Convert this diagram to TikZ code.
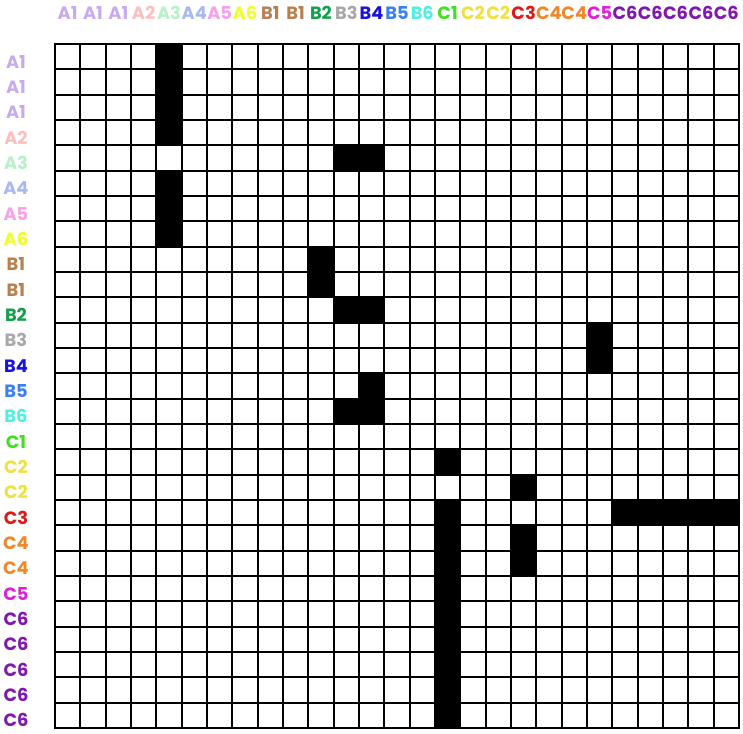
\documentclass[tikz,border=0pt]{standalone}
\usepackage{fontspec}
\setmainfont{Poppins}
\usepackage{xcolor}
\usepackage{tikz}
\definecolor{colA1}{RGB}{200,170,240}
\definecolor{colA2}{RGB}{255,190,190}
\definecolor{colA3}{RGB}{184,240,200}
\definecolor{colA4}{RGB}{168,184,240}
\definecolor{colA5}{RGB}{248,160,232}
\definecolor{colA6}{RGB}{238,255,48}
\definecolor{colB1}{RGB}{184,128,79}
\definecolor{colB2}{RGB}{18,160,74}
\definecolor{colB3}{RGB}{168,168,168}
\definecolor{colB4}{RGB}{26,16,224}
\definecolor{colB5}{RGB}{58,128,240}
\definecolor{colB6}{RGB}{80,240,224}
\definecolor{colC1}{RGB}{64,224,32}
\definecolor{colC2}{RGB}{240,224,64}
\definecolor{colC3}{RGB}{224,24,24}
\definecolor{colC4}{RGB}{240,136,40}
\definecolor{colC5}{RGB}{224,32,216}
\definecolor{colC6}{RGB}{128,24,176}

\begin{document}
\begin{tikzpicture}[
x=0.5cm,y=-0.5cm,
lbl/.style={font=\fontsize{10}{12}\selectfont\bfseries,inner sep=0pt,anchor=center},
celda/.style={fill=black},
rejilla/.style={line width=1.1pt,line cap=rect}
]
\useasboundingbox (-2.17,-1.737) rectangle (27.16,27.2);

% celdas negras (columna,fila)
\foreach \c/\r in {4/0,4/1,4/2,4/3,4/5,4/6,4/7,
  11/4,12/4,10/8,10/9,11/10,12/10,21/11,21/12,12/13,11/14,12/14,
  15/16,18/17,15/18,22/18,23/18,24/18,25/18,26/18,
  15/19,18/19,15/20,18/20,15/21,15/22,15/23,15/24,15/25,15/26}
  \fill[celda] (\c,\r) rectangle (\c+1,\r+1);

% rejilla
\foreach \k in {0,...,27}{
  \draw[rejilla] (\k,0) -- (\k,27);
  \draw[rejilla] (0,\k) -- (27,\k);
}

% etiquetas
\foreach \lab [count=\i from 0] in {A1,A1,A1,A2,A3,A4,A5,A6,B1,B1,B2,B3,B4,B5,B6,C1,C2,C2,C3,C4,C4,C5,C6,C6,C6,C6,C6}{
  \node[lbl,text=col\lab] (arriba\i) at (\i+0.5,-1.22) {\lab};
  \node[lbl,text=col\lab] (izq\i) at (-1.54,\i+0.7) {\lab};
}
\end{tikzpicture}
\end{document}
